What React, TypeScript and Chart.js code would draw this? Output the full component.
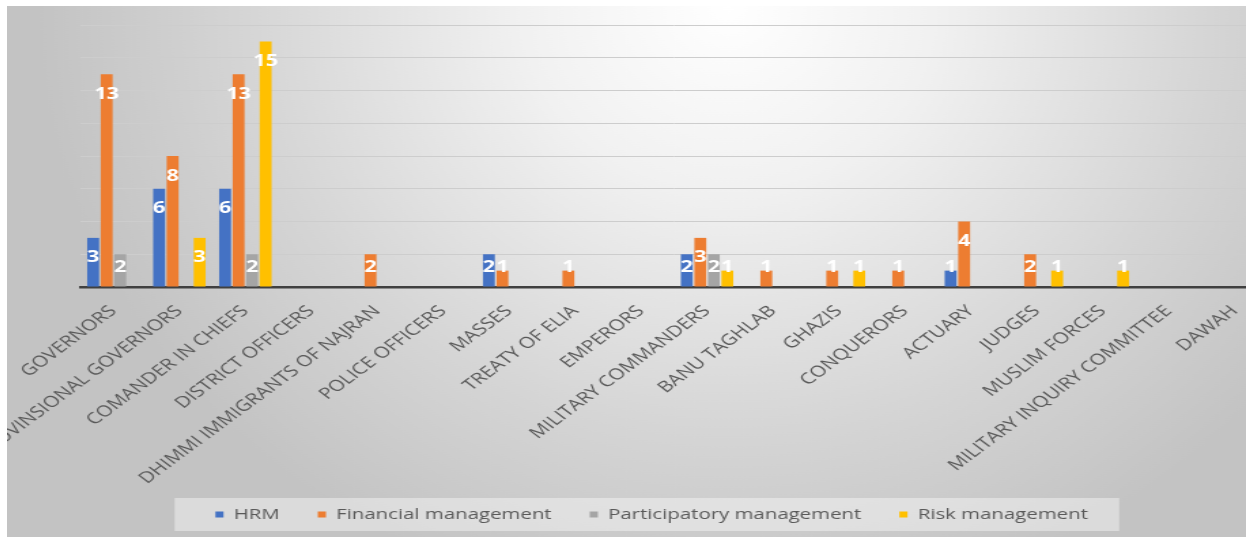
import React, { useEffect, useRef } from "react";
import { Chart, registerables } from "chart.js";

Chart.register(...registerables);

const categories = [
  "GOVERNORS",
  "PROVINSIONAL GOVERNORS",
  "COMANDER IN CHIEFS",
  "DISTRICT OFFICERS",
  "DHIMMI IMMIGRANTS OF NAJRAN",
  "POLICE OFFICERS",
  "MASSES",
  "TREATY OF ELIA",
  "EMPERORS",
  "MILITARY COMMANDERS",
  "BANU TAGHLAB",
  "GHAZIS",
  "CONQUERORS",
  "ACTUARY",
  "JUDGES",
  "MUSLIM FORCES",
  "MILITARY INQUIRY COMMITTEE",
  "DAWAH",
];
const hrm = [3, 6, 6, 0, 0, 0, 2, 0, 0, 2, 0, 0, 0, 1, 0, 0, 0, 0];
const financial = [13, 8, 13, 0, 2, 0, 1, 1, 0, 3, 1, 1, 1, 4, 2, 0, 0, 0];
const participatory = [2, 0, 2, 0, 0, 0, 0, 0, 0, 2, 0, 0, 0, 0, 0, 0, 0, 0];
const risk = [0, 3, 15, 0, 0, 0, 0, 0, 0, 1, 0, 1, 0, 0, 1, 1, 0, 0];
const seriesNames = ["HRM", "Financial management", "Participatory management", "Risk management"];
const seriesColors = ["#4472C4", "#ED7D31", "#A5A5A5", "#FFC000"];
const yMax = 16;
const yStep = 2;

const STRETCH = 1.36;
const CW = 927;
const CH = 531;
const LEGEND_CENTER = 474;
const LEGEND_PAD = 28;
const FONT = "'Open Sans', 'DejaVu Sans', sans-serif";

const bgPlugin = {
  id: "bgPlugin",
  afterLayout(chart: any) {
    const lg = chart.legend;
    if (lg) {
      const d = LEGEND_CENTER - (lg.left + lg.right) / 2;
      lg.left += d;
      lg.right += d;
    }
    const xs = chart.scales.x;
    if (xs) xs.bottom = chart.height;
  },
  beforeDraw(chart: any) {
    const { ctx, width, height } = chart;
    ctx.save();
    const cx = 530;
    ctx.translate(cx, 0);
    ctx.scale(1, 1.2);
    const g = ctx.createRadialGradient(0, 0, 0, 0, 0, 510);
    g.addColorStop(0, "#ffffff");
    g.addColorStop(0.3, "#f1f1f1");
    g.addColorStop(0.7, "#d5d5d5");
    g.addColorStop(1, "#c3c3c3");
    ctx.fillStyle = g;
    ctx.fillRect(-cx, 0, width, height / 1.2);
    ctx.restore();
    const lg = chart.legend;
    const hb = lg && lg.legendHitBoxes;
    if (hb && hb.length) {
      const first = hb[0];
      const last = hb[hb.length - 1];
      const cy = first.top + first.height / 2;
      const x0 = first.left - 30;
      const x1 = last.left + last.width + 23;
      ctx.save();
      ctx.fillStyle = "rgba(255,255,255,0.4)";
      ctx.fillRect(x0, cy - 16.5, x1 - x0, 33);
      ctx.restore();
    }
  },
  afterDatasetsDraw(chart: any) {
    const ctx = chart.ctx;
    ctx.save();
    ctx.font = `bold 16px ${FONT}`;
    ctx.fillStyle = "#ffffff";
    ctx.textAlign = "center";
    ctx.textBaseline = "middle";
    chart.data.datasets.forEach((ds: any, i: number) => {
      const meta = chart.getDatasetMeta(i);
      meta.data.forEach((el: any, j: number) => {
        const v = ds.data[j];
        if (!v) return;
        const y = Math.min(el.y + 20, el.base - 19);
        ctx.fillText(String(v), el.x, y);
      });
    });
    ctx.restore();
  },
};

export default function App() {
  const ref = useRef<HTMLCanvasElement>(null);
  useEffect(() => {
    const values = [hrm, financial, participatory, risk];
    const chart = new Chart(ref.current as HTMLCanvasElement, {
      type: "bar",
      data: {
        labels: categories,
        datasets: seriesNames.map((name, i) => ({
          label: name,
          data: values[i],
          backgroundColor: seriesColors[i],
          borderWidth: 0,
          categoryPercentage: 0.82,
          barPercentage: 0.88,
        })),
      },
      options: {
        responsive: false,
        animation: false,
        layout: { padding: { left: 54, right: 0, top: 19, bottom: 5 } },
        plugins: {
          legend: {
            position: "bottom",
            labels: {
              boxWidth: 6,
              boxHeight: 6,
              padding: LEGEND_PAD,
              color: "#595959",
              font: { size: 15, family: FONT },
            },
          },
          tooltip: { enabled: false },
          title: { display: false },
        },
        scales: {
          x: {
            grid: { display: false, drawTicks: false },
            border: { display: true, color: "#404040", width: 2.5 },
            ticks: {
              color: "#595959",
              font: { size: 15.5, family: FONT },
              minRotation: 45,
              maxRotation: 45,
              autoSkip: false,
              padding: 15,
            },
            afterFit: (s: any) => {
              s.paddingLeft = 0;
              s.paddingRight = 0;
              s.height = 220 - LEGEND_PAD;
            },
          },
          y: {
            min: 0,
            max: yMax,
            ticks: { display: false, stepSize: yStep },
            grid: {
              drawTicks: false,
              lineWidth: 1,
              color: (c: any) => (c.tick && c.tick.value === 0 ? "rgba(0,0,0,0)" : "#cdcdcd"),
            },
            border: { display: false },
            afterFit: (s: any) => {
              s.width = 0;
            },
          },
        },
      } as any,
      plugins: [bgPlugin],
    });
    return () => chart.destroy();
  }, []);

  return (
    <div
      style={{
        position: "absolute",
        left: 0,
        top: 0,
        width: 1246,
        height: 537,
        overflow: "hidden",
        background: "#ffffff",
      }}
    >
      <canvas
        ref={ref}
        width={CW}
        height={CH}
        style={{
          position: "absolute",
          left: 7,
          top: 6,
          width: CW,
          height: CH,
          transform: `scaleX(${STRETCH})`,
          transformOrigin: "0 0",
        }}
      />
    </div>
  );
}
